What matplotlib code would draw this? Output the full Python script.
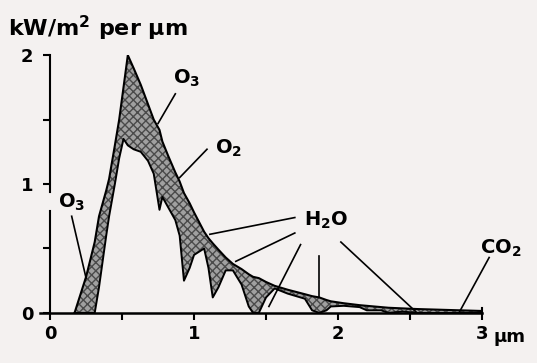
import numpy as np
import matplotlib.pyplot as plt

plt.rcParams['font.family'] = ['DejaVu Sans']
plt.rcParams['font.weight'] = 'bold'
plt.rcParams['mathtext.fontset'] = 'custom'
plt.rcParams['mathtext.rm'] = 'DejaVu Sans:bold'
plt.rcParams['mathtext.bf'] = 'DejaVu Sans:bold'

# wavelength (um) and spectral irradiance (kW/m2 per um)
wavelength = [0.17, 0.25, 0.31, 0.34, 0.39, 0.41, 0.45, 0.48, 0.51, 0.54, 0.58, 0.63,
              0.68, 0.72, 0.76, 0.78, 0.82, 0.87, 0.90, 0.93, 0.97, 1.00, 1.07, 1.10,
              1.13, 1.17, 1.22, 1.27, 1.33, 1.38, 1.41, 1.45, 1.50, 1.56, 1.65, 1.77,
              1.82, 1.87, 1.92, 1.95, 2.04, 2.15, 2.20, 2.30, 2.35, 2.45, 2.55, 2.70,
              2.85, 3.00]
top_of_atm = [0.0, 0.28, 0.55, 0.75, 0.95, 1.04, 1.30, 1.50, 1.75, 2.00, 1.90, 1.77,
              1.62, 1.50, 1.42, 1.33, 1.22, 1.09, 1.02, 0.93, 0.85, 0.78, 0.63, 0.58,
              0.54, 0.49, 0.43, 0.38, 0.34, 0.30, 0.28, 0.27, 0.24, 0.21, 0.18, 0.145,
              0.13, 0.12, 0.10, 0.09, 0.075, 0.06, 0.055, 0.045, 0.04, 0.035, 0.03, 0.025,
              0.02, 0.015]
sea_level = [0.0, 0.0, 0.0, 0.20, 0.60, 0.75, 1.00, 1.20, 1.35, 1.30, 1.27, 1.25,
             1.18, 1.08, 0.80, 0.90, 0.82, 0.72, 0.60, 0.25, 0.35, 0.45, 0.50, 0.35,
             0.12, 0.20, 0.33, 0.33, 0.22, 0.05, 0.0, 0.0, 0.12, 0.19, 0.15, 0.11,
             0.02, 0.0, 0.02, 0.05, 0.055, 0.045, 0.02, 0.02, 0.0, 0.01, 0.0, 0.0,
             0.0, 0.0]

# labels: (text, text position, leader line ends)
labels = [
    (r'O$_\mathbf{3}$', (0.95, 1.82), [((0.87, 1.70), (0.75, 1.47))]),
    (r'O$_\mathbf{2}$', (1.24, 1.28), [((1.09, 1.27), (0.90, 1.05))]),
    (r'O$_\mathbf{3}$', (0.15, 0.86), [((0.15, 0.75), (0.25, 0.27))]),
    (r'H$_\mathbf{2}$O', (1.92, 0.72), [((1.70, 0.74), (1.11, 0.61)),
                                        ((1.70, 0.62), (1.29, 0.40)),
                                        ((1.74, 0.53), (1.52, 0.05)),
                                        ((1.87, 0.44), (1.87, 0.12)),
                                        ((2.02, 0.55), (2.54, 0.01))]),
    (r'CO$_\mathbf{2}$', (3.13, 0.50), [((3.05, 0.43), (2.84, 0.0))]),
]

fig = plt.figure(figsize=(5.37, 3.63), dpi=100)
fig.patch.set_facecolor('#f4f1f0')
ax = fig.add_axes([0.0745, 0.138, 0.823, 0.71])
ax.set_facecolor('none')

x = np.array(wavelength)
ax.fill_between(x, sea_level, top_of_atm, facecolor='#a0a0a0', edgecolor='#4a4a4a',
                hatch='xxxx', linewidth=0)
ax.plot(x, top_of_atm, color='black', lw=1.5)
ax.plot(x, sea_level, color='black', lw=1.4)

for txt, pos, lines in labels:
    ax.text(pos[0], pos[1], txt, fontsize=14, ha='center', va='center', fontweight='bold')
    for (x0, y0), (x1, y1) in lines:
        ax.plot([x0, x1], [y0, y1], color='black', lw=1.2, clip_on=False)

ax.set_xlim(-0.07, 3.0)
ax.set_ylim(0, 2)
for s in ['top', 'right']:
    ax.spines[s].set_visible(False)
# y axis drawn by hand: it breaks behind the left O3 label
ax.spines['left'].set_position(('data', 0))
ax.spines['left'].set_color('none')
ax.plot([0, 0], [0, 0.79], color='black', lw=1.5, clip_on=False)
ax.plot([0, 0], [0.94, 2], color='black', lw=1.5, clip_on=False)
ax.plot([3, 3], [0, 0.04], color='black', lw=1.5, clip_on=False)
ax.spines['bottom'].set_linewidth(1.8)
ax.set_xticks([0, 0.5, 1, 1.5, 2, 2.5, 3])
ax.set_xticklabels(['0', '', '1', '', '2', '', '3'], fontsize=13, fontweight='bold')
ax.text(3.08, -0.12, 'µm', fontsize=13, fontweight='bold', ha='left', va='top')
ax.set_yticks([0, 0.5, 1, 1.5, 2])
ax.set_yticklabels(['0', '', '1', '', '2'], fontsize=13, fontweight='bold')
ax.tick_params(axis='both', width=1.5, length=5, color='black')
ax.tick_params(axis='y', pad=7)
fig.text(0.015, 0.9, 'kW/m$^\mathbf{2}$ per µm', fontsize=16, fontweight='bold')

fig.savefig('out.png', dpi=100)
